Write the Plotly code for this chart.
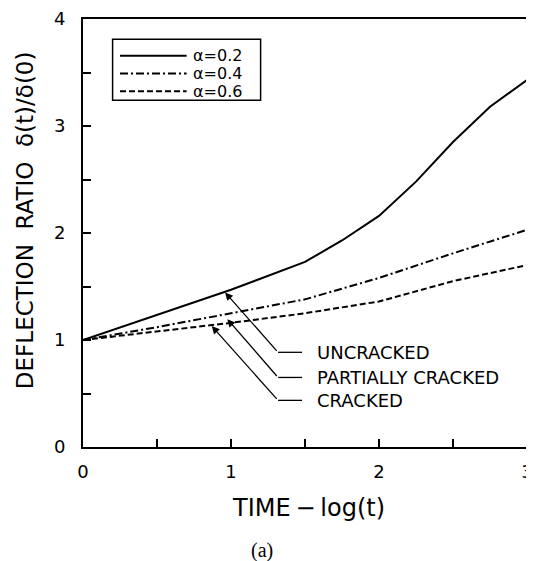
import plotly.graph_objects as go

# ---- data ----
x_a02 = [0, 1.0, 1.5, 1.75, 2.0, 2.25, 2.5, 2.75, 3.0]
y_a02 = [1.0, 1.47, 1.73, 1.93, 2.16, 2.48, 2.85, 3.18, 3.43]

x_a04 = [0, 0.5, 1.0, 1.5, 2.0, 2.5, 3.0]
y_a04 = [1.0, 1.12, 1.25, 1.38, 1.58, 1.81, 2.03]

x_a06 = [0, 0.5, 1.0, 1.5, 2.0, 2.5, 3.0]
y_a06 = [1.0, 1.08, 1.16, 1.25, 1.36, 1.55, 1.70]

series_names = ["α=0.2", "α=0.4", "α=0.6"]
series_dash = ["solid", "8px,3px,2px,3px", "6px,3px"]

x_tickvals = [0, 0.5, 1, 1.5, 2, 2.5, 3]
x_ticktext = ["0", "", "1", "", "2", "", "3"]
y_tickvals = [0, 0.5, 1, 1.5, 2, 2.5, 3, 3.5, 4]
y_ticktext = ["0", "", "1", "", "2", "", "3", "", "4"]

callout_labels = ["UNCRACKED", "PARTIALLY CRACKED", "CRACKED"]
callout_tip_x = [0.96, 0.975, 0.87]
callout_tip_y = [1.445, 1.195, 1.13]
callout_tail_x = 1.318
callout_tail_y = [0.885, 0.65, 0.436]
callout_bend_x = 1.48
callout_text_x = 1.568

FONT = "DejaVu Sans"

fig = go.Figure()
for xs, ys, nm, ds in zip([x_a02, x_a04, x_a06], [y_a02, y_a04, y_a06],
                          series_names, series_dash):
    fig.add_trace(go.Scatter(x=xs, y=ys, mode="lines", name=nm,
                             line=dict(color="black", width=2, dash=ds),
                             showlegend=False))

shapes = []
annotations = []

# manual legend box
leg_x0, leg_x1, leg_y0, leg_y1 = 0.20, 1.20, 3.24, 3.81
shapes.append(dict(type="rect", xref="x", yref="y", x0=leg_x0, x1=leg_x1,
                   y0=leg_y0, y1=leg_y1, line=dict(color="black", width=1.5)))
leg_rows = [3.657, 3.49, 3.324]
for nm, ds, yy in zip(series_names, series_dash, leg_rows):
    shapes.append(dict(type="line", xref="x", yref="y", x0=0.25, x1=0.70,
                       y0=yy, y1=yy, line=dict(color="black", width=2, dash=ds)))
    annotations.append(dict(x=0.73, y=yy, xref="x", yref="y", text=nm,
                            showarrow=False, xanchor="left", yanchor="middle",
                            font=dict(family=FONT, size=16, color="black")))

# callouts
for lab, tx, ty, ly in zip(callout_labels, callout_tip_x, callout_tip_y, callout_tail_y):
    annotations.append(dict(x=tx, y=ty, xref="x", yref="y", ax=callout_tail_x, ay=ly,
                            axref="x", ayref="y", text="", showarrow=True,
                            arrowhead=2, arrowsize=1.2, arrowwidth=1.3,
                            arrowcolor="black"))
    shapes.append(dict(type="line", xref="x", yref="y", x0=callout_tail_x,
                       x1=callout_bend_x, y0=ly, y1=ly,
                       line=dict(color="black", width=1.3)))
    annotations.append(dict(x=callout_text_x, y=ly, xref="x", yref="y", text=lab,
                            showarrow=False, xanchor="left", yanchor="middle",
                            font=dict(family=FONT, size=18, color="black")))

# axis titles as annotations
annotations.append(dict(x=0, y=0.53, xref="paper", yref="paper", xshift=-58,
                        text="DEFLECTION\u00a0\u00a0RATIO\u00a0\u00a0δ(t)/δ(0)",
                        textangle=-90, showarrow=False, xanchor="center",
                        yanchor="middle",
                        font=dict(family=FONT, size=23, color="black")))
annotations.append(dict(x=0.507, y=0, xref="paper", yref="paper", yshift=-61,
                        text="TIME\u2009−\u2009log(t)", showarrow=False,
                        xanchor="center", yanchor="middle",
                        font=dict(family=FONT, size=24, color="black")))
annotations.append(dict(x=0.403, y=0, xref="paper", yref="paper", yshift=-103,
                        text="(a)", showarrow=False, xanchor="center",
                        yanchor="middle",
                        font=dict(family="Liberation Serif", size=20, color="black")))

axis_common = dict(showgrid=False, zeroline=False, showline=True, linecolor="black",
                   linewidth=2, mirror=True, ticks="inside", ticklen=8,
                   tickwidth=1.5, tickcolor="black", automargin=False,
                   ticklabeloverflow="allow",
                   tickfont=dict(family=FONT, size=18, color="black"))

# the page body adds an 8px offset, so the figure is sized to fit the window
fig.update_layout(
    width=526, height=553,
    margin=dict(l=75, r=7, t=11, b=114),
    paper_bgcolor="white", plot_bgcolor="white",
    xaxis=dict(range=[0, 3], tickmode="array", tickvals=x_tickvals,
               ticktext=x_ticktext, ticklabelstandoff=7, **axis_common),
    yaxis=dict(range=[0, 4], tickmode="array", tickvals=y_tickvals,
               ticktext=y_ticktext, ticklabelstandoff=12, **axis_common),
    shapes=shapes, annotations=annotations,
)

fig.write_html("out.html")
